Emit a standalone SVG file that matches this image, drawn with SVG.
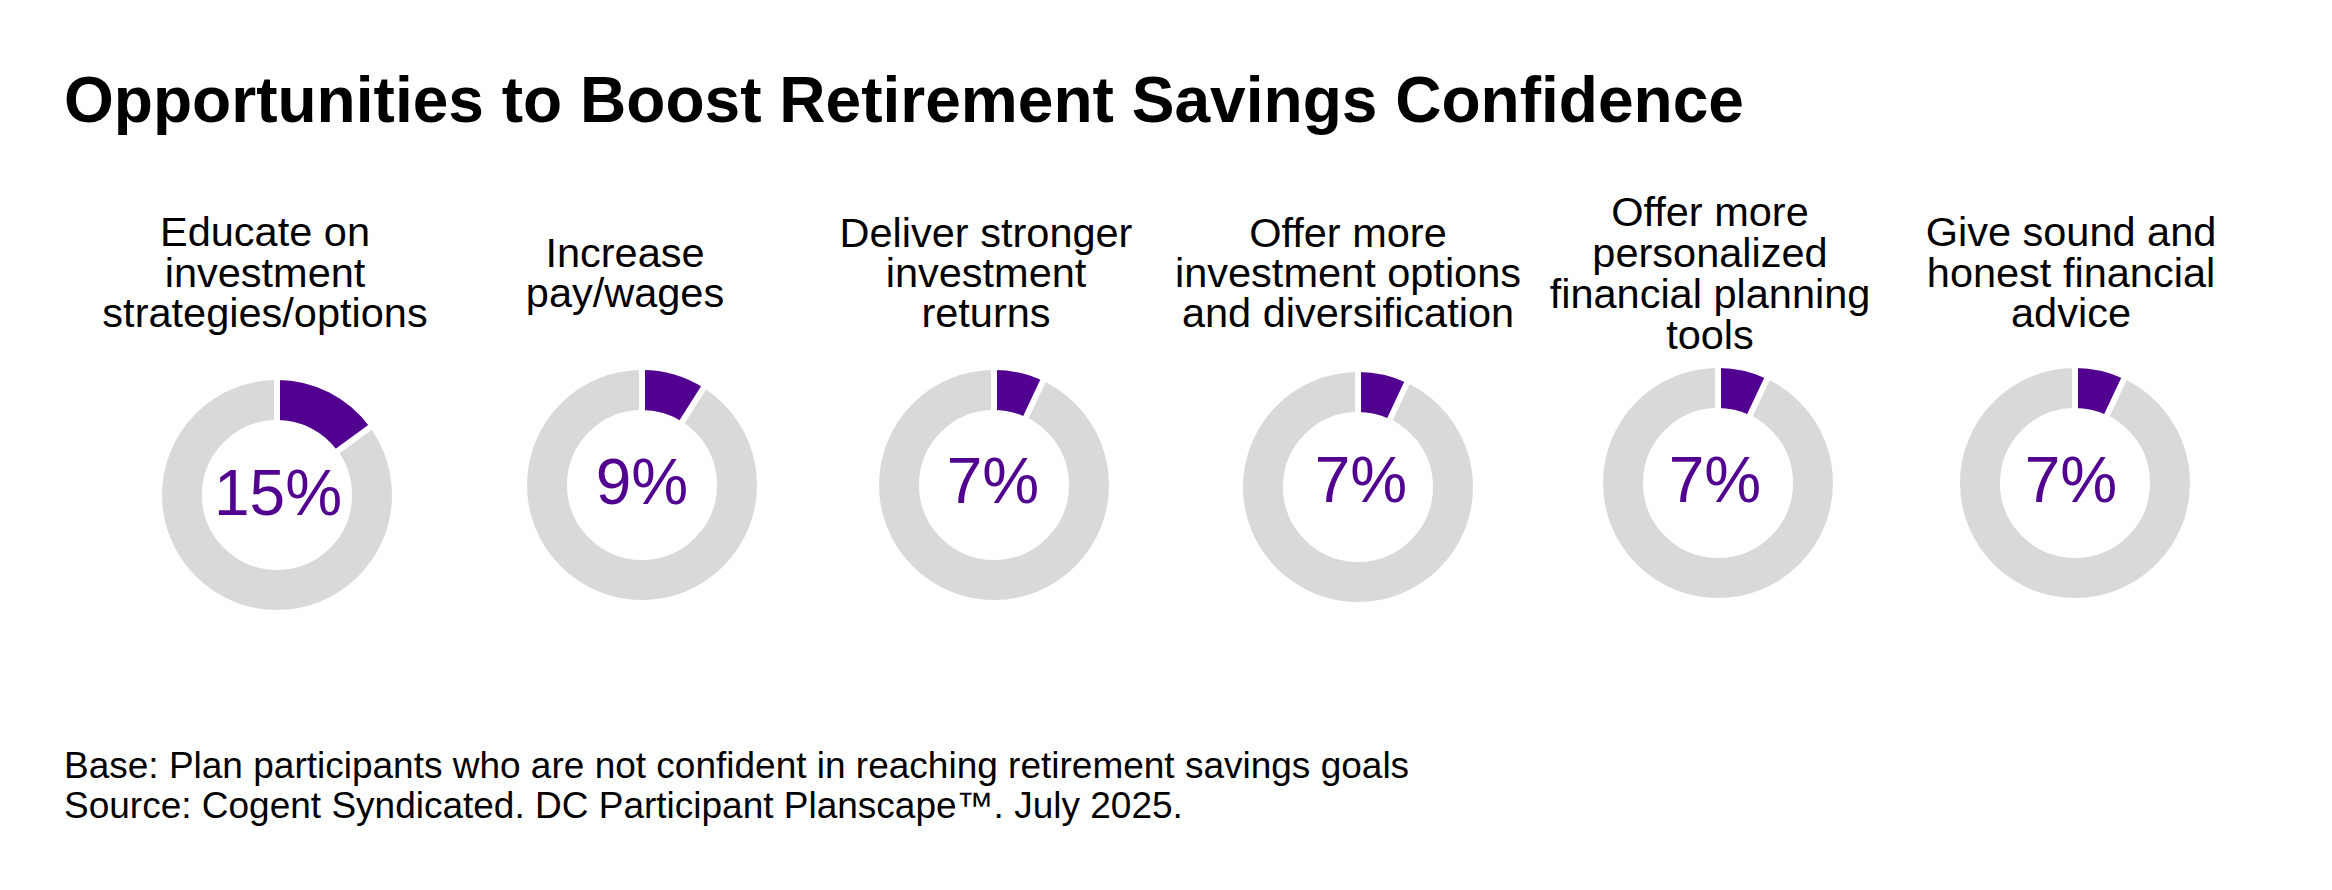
<svg xmlns="http://www.w3.org/2000/svg" width="2332" height="890" viewBox="0 0 2332 890">
  <style>
    .title { font-family: "Liberation Sans", Arial, sans-serif; font-weight: bold; font-size: 64px; fill: #000000; }
    .label { font-family: "Liberation Sans", Arial, sans-serif; font-size: 41.5px; fill: #000000; text-anchor: middle; }
    .pct { font-family: "Liberation Sans", Arial, sans-serif; font-size: 64px; fill: #51008F; text-anchor: middle; }
    .foot { font-family: "Liberation Sans", Arial, sans-serif; font-size: 37px; fill: #000000; }
    .ring { fill: none; stroke: #D9D9D9; stroke-width: 40; }
    .seg { fill: #51008F; stroke: none; }
    .sep { stroke: #FFFFFF; stroke-width: 6; }
  </style>
  <defs>
    <circle id="ring" class="ring" cx="0" cy="0" r="95"/>
    <line id="sep" class="sep" x1="0" y1="-70" x2="0" y2="-120"/>
  </defs>
  <rect x="0" y="0" width="2332" height="890" fill="#FFFFFF"/>

  <text id="title" class="title" x="64" y="122" textLength="1680" lengthAdjust="spacingAndGlyphs">Opportunities to Boost Retirement Savings Confidence</text>

  <g id="node-educate">
    <text class="label"><tspan x="265" y="246">Educate on</tspan><tspan x="265" y="287">investment</tspan><tspan x="265" y="327">strategies/options</tspan></text>
    <g transform="translate(277,495)">
      <use href="#ring"/>
      <path class="seg" d="M0,-115 A115,115 0 0 1 93.04,-67.60 L60.68,-44.08 A75,75 0 0 0 0,-75 Z"/>
      <use href="#sep"/>
      <use href="#sep" transform="rotate(54)"/>
    </g>
    <text class="pct" x="278" y="515">15%</text>
  </g>

  <g id="node-pay">
    <text class="label"><tspan x="625" y="267">Increase</tspan><tspan x="625" y="307">pay/wages</tspan></text>
    <g transform="translate(642,485)">
      <use href="#ring"/>
      <path class="seg" d="M0,-115 A115,115 0 0 1 61.62,-97.10 L40.19,-63.32 A75,75 0 0 0 0,-75 Z"/>
      <use href="#sep"/>
      <use href="#sep" transform="rotate(32.4)"/>
    </g>
    <text class="pct" x="642" y="504">9%</text>
  </g>

  <g id="node-returns">
    <text class="label"><tspan x="986" y="247">Deliver stronger</tspan><tspan x="986" y="287">investment</tspan><tspan x="986" y="327">returns</tspan></text>
    <g transform="translate(994,485)">
      <use href="#ring"/>
      <path class="seg" d="M0,-115 A115,115 0 0 1 48.97,-104.05 L31.94,-67.86 A75,75 0 0 0 0,-75 Z"/>
      <use href="#sep"/>
      <use href="#sep" transform="rotate(25.2)"/>
    </g>
    <text class="pct" x="993" y="503">7%</text>
  </g>

  <g id="node-options">
    <text class="label"><tspan x="1348" y="247">Offer more</tspan><tspan x="1348" y="287">investment options</tspan><tspan x="1348" y="327">and diversification</tspan></text>
    <g transform="translate(1358,487)">
      <use href="#ring"/>
      <path class="seg" d="M0,-115 A115,115 0 0 1 48.97,-104.05 L31.94,-67.86 A75,75 0 0 0 0,-75 Z"/>
      <use href="#sep"/>
      <use href="#sep" transform="rotate(25.2)"/>
    </g>
    <text class="pct" x="1361" y="502">7%</text>
  </g>

  <g id="node-tools">
    <text class="label"><tspan x="1710" y="226">Offer more</tspan><tspan x="1710" y="267">personalized</tspan><tspan x="1710" y="308">financial planning</tspan><tspan x="1710" y="349">tools</tspan></text>
    <g transform="translate(1718,483)">
      <use href="#ring"/>
      <path class="seg" d="M0,-115 A115,115 0 0 1 48.97,-104.05 L31.94,-67.86 A75,75 0 0 0 0,-75 Z"/>
      <use href="#sep"/>
      <use href="#sep" transform="rotate(25.2)"/>
    </g>
    <text class="pct" x="1715" y="502">7%</text>
  </g>

  <g id="node-advice">
    <text class="label"><tspan x="2071" y="246">Give sound and</tspan><tspan x="2071" y="287">honest financial</tspan><tspan x="2071" y="327">advice</tspan></text>
    <g transform="translate(2075,483)">
      <use href="#ring"/>
      <path class="seg" d="M0,-115 A115,115 0 0 1 48.97,-104.05 L31.94,-67.86 A75,75 0 0 0 0,-75 Z"/>
      <use href="#sep"/>
      <use href="#sep" transform="rotate(25.2)"/>
    </g>
    <text class="pct" x="2071" y="502">7%</text>
  </g>

  <g id="connectors"></g>

  <g id="footer">
    <text class="foot"><tspan x="64" y="778">Base: Plan participants who are not confident in reaching retirement savings goals</tspan><tspan x="64" y="818">Source: Cogent Syndicated. DC Participant Planscape™. July 2025.</tspan></text>
  </g>
</svg>
